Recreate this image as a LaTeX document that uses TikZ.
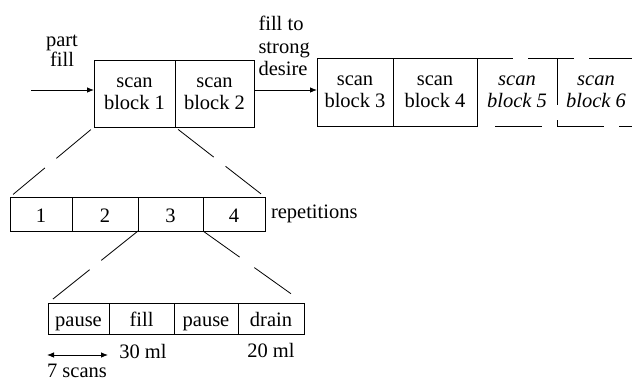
\documentclass[tikz,border=0pt]{standalone}
\usepackage{fontspec}
\setmainfont{Liberation Serif}
\usetikzlibrary{arrows.meta}
\begin{document}
\begin{tikzpicture}[x=1pt,y=-1pt,
  every node/.style={font=\fontsize{20.5}{22}\selectfont, inner sep=0pt, outer sep=0pt},
  cell/.style={draw, line width=0.8pt, align=center},
  onecell/.style={cell, text height=16.5pt, text depth=0.5pt},
  txt/.style={align=center},
  ln/.style={line width=0.8pt},
  arr/.style={ln, -{Latex[length=7pt,width=5.5pt]}},
  darr/.style={ln, {Latex[length=7pt,width=5.5pt]}-{Latex[length=7pt,width=5.5pt]}},
  zoomln/.style={ln, dash pattern=on 45pt off 15pt}
]
\useasboundingbox (0,0) rectangle (632,381);

% top row
\node[cell, minimum width=81pt, minimum height=67pt] (b1) at (134.5,93.5) {scan\\block 1};
\node[cell, minimum width=79pt, minimum height=67pt] (b2) at (214.5,93.5) {scan\\block 2};
\node[cell, minimum width=76pt, minimum height=68pt] (b3) at (355,92) {scan\\block 3};
\node[cell, minimum width=84pt, minimum height=68pt] (b4) at (435,92) {scan\\block 4};
\node[txt] (b5) at (517,92) {\itshape scan\\\itshape block 5};
\node[txt] (b6) at (596,92) {\itshape scan\\\itshape block 6};

% dashed outline of blocks 5 and 6
\coordinate (t1) at (513,58);
\coordinate (t2) at (528,58);
\coordinate (t3) at (574,58);
\coordinate (t4) at (589,58);
\coordinate (t5) at (632,58);
\draw[ln] (b4.north east) -- (t1);
\draw[ln] (t2) -- (t3);
\draw[ln] (t4) -- (t5);
\coordinate (bStart) at (495,126);
\coordinate (bEnd) at (632,126);
\coordinate (dTop) at (557,58);
\coordinate (dBot) at (557,126);
\draw[ln, dash pattern=on 47pt off 15pt] (bStart) -- (bEnd);
\draw[ln, dash pattern=on 47pt off 15pt] (dTop) -- (dBot);

% labels and arrows
\node[txt, font=\fontsize{20.5}{20}\selectfont] (pf) at (62,51) {part\\fill};
\coordinate (pfs) at (31,90);
\draw[arr] (pfs) -- (pfs -| b1.west);
\node[align=left, anchor=west, font=\fontsize{20.5}{22.5}\selectfont] (fsd) at (258.5,46) {fill to\\strong\\desire};
\draw[arr] (b2.east |- pfs) -- (b3.west |- pfs);

% repetitions row
\node[onecell, minimum width=62pt, minimum height=34pt] (r1) at (41,214) {1};
\node[onecell, minimum width=66pt, minimum height=34pt] (r2) at (105,214) {2};
\node[onecell, minimum width=65pt, minimum height=34pt] (r3) at (170.5,214) {3};
\node[onecell, minimum width=62pt, minimum height=34pt] (r4) at (234,214) {4};
\node[anchor=base west] (rep) at (271,218) {repetitions};

\draw[zoomln, shorten <=4pt, shorten >=4pt] (b1.south west) -- (r1.north west);
\draw[zoomln, shorten <=4pt, shorten >=4pt] (b1.south east) -- (r4.north east);

% sub-row
\node[onecell, minimum width=61pt, minimum height=31pt] (p1) at (78.5,318.5) {pause};
\node[onecell, minimum width=65pt, minimum height=31pt] (p2) at (141.5,318.5) {fill};
\node[onecell, minimum width=64pt, minimum height=31pt] (p3) at (206,318.5) {pause};
\node[onecell, minimum width=66pt, minimum height=31pt] (p4) at (271,318.5) {drain};

\draw[ln, dash pattern=on 47pt off 15pt, shorten >=4pt] (r3.south west) -- (p1.north west);
\draw[ln, dash pattern=on 45pt off 18pt, shorten >=12pt] (r3.south east) -- (p4.north east);

\node[anchor=base] (m30) at (143,358) {30 ml};
\node[anchor=base] (m20) at (271,357.5) {20 ml};
\coordinate (sa) at (47,355);
\coordinate (sb) at (108,355);
\draw[darr] (sa) -- (sb);
\node[anchor=base] (sc) at (77,377.5) {7 scans};
\end{tikzpicture}
\end{document}
